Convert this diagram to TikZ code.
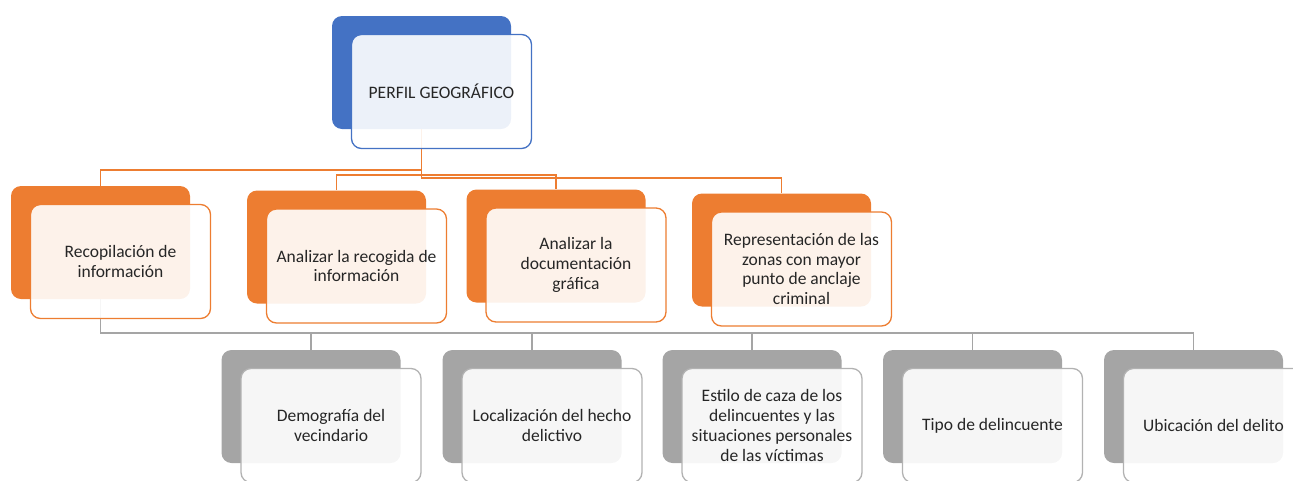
\documentclass[tikz,border=0pt]{standalone}
\usepackage{fontspec}
\setmainfont{Carlito}
\usepackage{xcolor}
\usepackage{tikz}

\definecolor{azul}{HTML}{4472C4}
\definecolor{naranja}{HTML}{ED7D31}
\definecolor{gris}{HTML}{A5A5A5}

\begin{document}
\begin{tikzpicture}[x=1pt,y=-1pt,
   fondo/.style={rounded corners=10pt,minimum width=179pt,minimum height=113pt,inner sep=0pt},
   frente/.style={draw,rounded corners=10pt,fill=white,fill opacity=0.9,text opacity=1,
     line width=1.3pt,minimum width=180pt,minimum height=114pt,inner sep=0pt,align=center,
     text=black!85,font=\fontsize{17.5}{19.8}\selectfont},
   linea/.style={line width=1.5pt}]

  \useasboundingbox (0,0) rectangle (1293,480);
  \clip (0,0) rectangle (1293,480);

  % cajas de fondo
  \node[fondo,fill=azul] (perfil) at (421.5,72.5) {};
  \foreach \n/\x/\y in {rec/100.5/242.5, ana/336.5/247, doc/556/246, rep/781.5/250}
    \node[fondo,fill=naranja] (\n) at (\x,\y) {};
  \foreach \n/\x in {dem/311, loc/532, est/752, tip/972.5, ubi/1193.5}
    \node[fondo,fill=gris] (\n) at (\x,406.5) {};

  % conectores
  \foreach \n/\h in {rec/41, ana/46, doc/46, rep/49}
    \draw[linea,naranja] (perfil.south) -- ++(0,\h) -| (\n.north);
  \foreach \n in {dem,loc,est,tip,ubi}
    \draw[linea,gris] (rec.south) -- ++(0,34) -| (\n.north);

  % cajas de frente
  \node[frente,draw=azul] (perfil f) at ([shift={(20,19)}]perfil.center) {PERFIL GEOGRÁFICO};

  \node[frente,draw=naranja] (rec f) at ([shift={(20,19)}]rec.center) {Recopilación de\\información};
  \node[frente,draw=naranja] (ana f) at ([shift={(20,19)}]ana.center) {Analizar la recogida de\\información};
  \node[frente,draw=naranja] (doc f) at ([shift={(20,19)}]doc.center) {Analizar la\\documentación\\gráfica};
  \node[frente,draw=naranja] (rep f) at ([shift={(20,19)}]rep.center) {Representación de las\\zonas con mayor\\punto de anclaje\\criminal};

  \node[frente,draw=gris!85] (dem f) at ([shift={(20,19)}]dem.center) {Demografía del\\vecindario};
  \node[frente,draw=gris!85] (loc f) at ([shift={(20,19)}]loc.center) {Localización del hecho\\delictivo};
  \node[frente,draw=gris!85] (est f) at ([shift={(20,19)}]est.center) {Estilo de caza de los\\delincuentes y las\\situaciones personales\\de las víctimas};
  \node[frente,draw=gris!85] (tip f) at ([shift={(20,19)}]tip.center) {Tipo de delincuente};
  \node[frente,draw=gris!85] (ubi f) at ([shift={(20,19)}]ubi.center) {Ubicación del delito};
\end{tikzpicture}
\end{document}
